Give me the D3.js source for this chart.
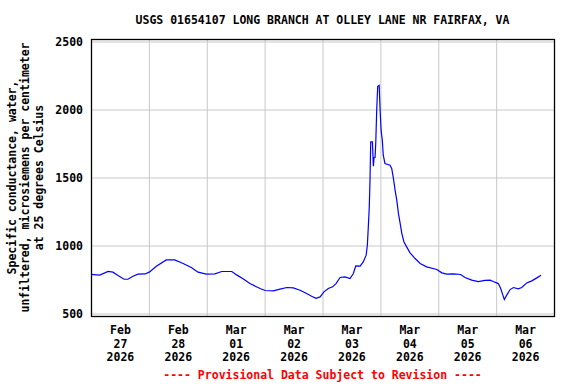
<!DOCTYPE html>
<html>
<head>
<meta charset="utf-8">
<script src="https://cdn.jsdelivr.net/npm/d3@7"></script>
<style>
	body { margin: 0; background: #fff; }
	svg { display: block; }
	text {
		font-family: "DejaVu Sans Mono", monospace;
		font-weight: bold;
		font-size: 11.5px;
		fill: #000;
	}
	.grid line { stroke: #c8c8c8; stroke-width: 1; }
	.grid path { stroke-width: 0; }
	.axis path, .axis line { stroke: none; }
	text.footer { fill: #ff0000; }
	.series { fill: none; stroke: #0000ff; stroke-width: 1.2; }
</style>
</head>
<body>
<div id="chart"></div>
<script>
const title = "USGS 01654107 LONG BRANCH AT OLLEY LANE NR FAIRFAX, VA";
const yLabelLines = [
	"Specific conductance, water,",
	"unfiltered, microsiemens per centimeter",
	"at 25 degrees Celsius"
];
const footer = "---- Provisional Data Subject to Revision ----";
const yTicks = [500, 1000, 1500, 2000, 2500];
const dayLabels = [
	["Feb", "27", "2026"], ["Feb", "28", "2026"], ["Mar", "01", "2026"], ["Mar", "02", "2026"],
	["Mar", "03", "2026"], ["Mar", "04", "2026"], ["Mar", "05", "2026"], ["Mar", "06", "2026"]
];

// hours since 2026-02-27 00:00
const hours = [
	0, 3.6, 7.1, 9.1, 11.2, 13.7, 15.3, 17.4, 19.5, 22.5,
	24.3, 27.1, 31.2, 34.7, 38.2, 41.6, 44.4, 47.8, 51.4, 54.2,
	58.4, 60.4, 63.2, 65.9, 70.1, 72.2, 75.6, 78.4, 81.2, 83.9,
	86.7, 89.4, 91.5, 93.3, 95.0, 96.6, 98.4, 100.2, 101.6, 103.3,
	105.3, 107.4, 108.8, 109.8, 111.6, 112.9, 114.1, 114.6, 115.0, 115.4,
	115.7, 116.0, 116.7, 117.1, 117.4, 117.8, 118.1, 118.5, 118.9, 119.5,
	119.9, 120.3, 120.8, 121.2, 121.9, 124.0, 124.7, 125.4, 126.1, 126.8,
	127.5, 128.2, 128.9, 129.8, 130.9, 132.3, 134.4, 136.5, 139.2, 143.4,
	145.5, 147.5, 150.3, 153.3, 155.1, 157.9, 160.6, 163.4, 165.5, 166.8,
	168.9, 169.9, 170.8, 171.4, 172.4, 173.8, 175.2, 177.2, 178.6, 180.7,
	182.8, 184.9, 186.6
];
const conductance = [
	787, 782, 809, 804, 779, 752, 752, 774, 789, 791,
	806, 848, 894, 894, 868, 838, 804, 789, 791, 809,
	809, 784, 754, 720, 684, 669, 666, 679, 691, 688,
	671, 647, 627, 612, 622, 659, 684, 696, 720, 765,
	769, 757, 794, 850, 848, 879, 929, 1002, 1137, 1284,
	1480, 1762, 1762, 1583, 1647, 1647, 1762, 2007, 2171, 2178,
	1995, 1848, 1774, 1664, 1603, 1590, 1566, 1493, 1407, 1333,
	1235, 1162, 1088, 1026, 990, 946, 904, 868, 843, 824,
	799, 789, 791, 787, 765, 745, 735, 743, 745, 735,
	720, 684, 635, 603, 635, 676, 691, 681, 691, 725,
	740, 762, 782
];

const width = 576, height = 384;
const mLeft = 91, mRight = 554, mTop = 39, mBottom = 316;

const start = new Date(2026, 1, 27);
const end = new Date(2026, 2, 7);
const data = hours.map((h, i) => ({ t: d3.timeMinute.offset(start, Math.round(h * 60)), v: conductance[i] }));

const svg = d3.select("#chart").append("svg").attr("width", width).attr("height", height);

const x = d3.scaleTime().domain([start, end]).range([mLeft, mRight]);
const y = d3.scaleLinear().domain([500, 2500]).range([313.5, 41.5]);

// horizontal grid
svg.append("g")
	.attr("class", "grid")
	.attr("transform", `translate(${mLeft},0)`)
	.call(d3.axisLeft(y).tickValues(yTicks).tickSize(-(mRight - mLeft)).tickFormat(""));

// vertical grid at midnight
svg.append("g")
	.attr("class", "grid")
	.attr("transform", `translate(0,${mBottom})`)
	.call(d3.axisBottom(x).ticks(d3.timeDay.every(1)).tickSize(-(mBottom - mTop)).tickFormat(""));

svg.append("path")
	.datum(data)
	.attr("class", "series")
	.attr("d", d3.line().x(d => x(d.t)).y(d => y(d.v)));

svg.append("rect")
	.attr("x", mLeft + 0.5).attr("y", mTop + 0.5)
	.attr("width", mRight - mLeft).attr("height", mBottom - mTop)
	.attr("fill", "none").attr("stroke", "#000").attr("stroke-width", 1.3);

// y tick labels
svg.append("g")
	.attr("class", "axis")
	.attr("transform", `translate(${mLeft},0)`)
	.call(d3.axisLeft(y).tickValues(yTicks).tickSize(0).tickPadding(8).tickFormat(d3.format("d")));

// x labels at noon
const noons = d3.timeDay.range(start, end).map(d => d3.timeHour.offset(d, 12));
const xAxis = svg.append("g")
	.attr("class", "axis")
	.attr("transform", `translate(0,${mBottom})`)
	.call(d3.axisBottom(x).tickValues(noons).tickSize(0).tickFormat(""));

xAxis.selectAll(".tick text")
	.attr("y", 0).attr("dy", null)
	.each(function(d, i) {
		const t = d3.select(this);
		dayLabels[i].forEach((s, k) => {
			t.append("tspan").attr("x", 0).attr("y", 18 + k * 13.5).text(s);
		});
	});

svg.append("text")
	.attr("x", (mLeft + mRight) / 2).attr("y", 24)
	.attr("text-anchor", "middle")
	.text(title);

const yl = svg.append("text")
	.attr("transform", `translate(16,${(mTop + mBottom) / 2}) rotate(-90)`)
	.attr("text-anchor", "middle");
yLabelLines.forEach((s, k) => {
	yl.append("tspan").attr("x", 0).attr("y", k * 13.3).text(s);
});

svg.append("text")
	.attr("class", "footer")
	.attr("x", (mLeft + mRight) / 2).attr("y", 379)
	.attr("text-anchor", "middle")
	.text(footer);
</script>
</body>
</html>
